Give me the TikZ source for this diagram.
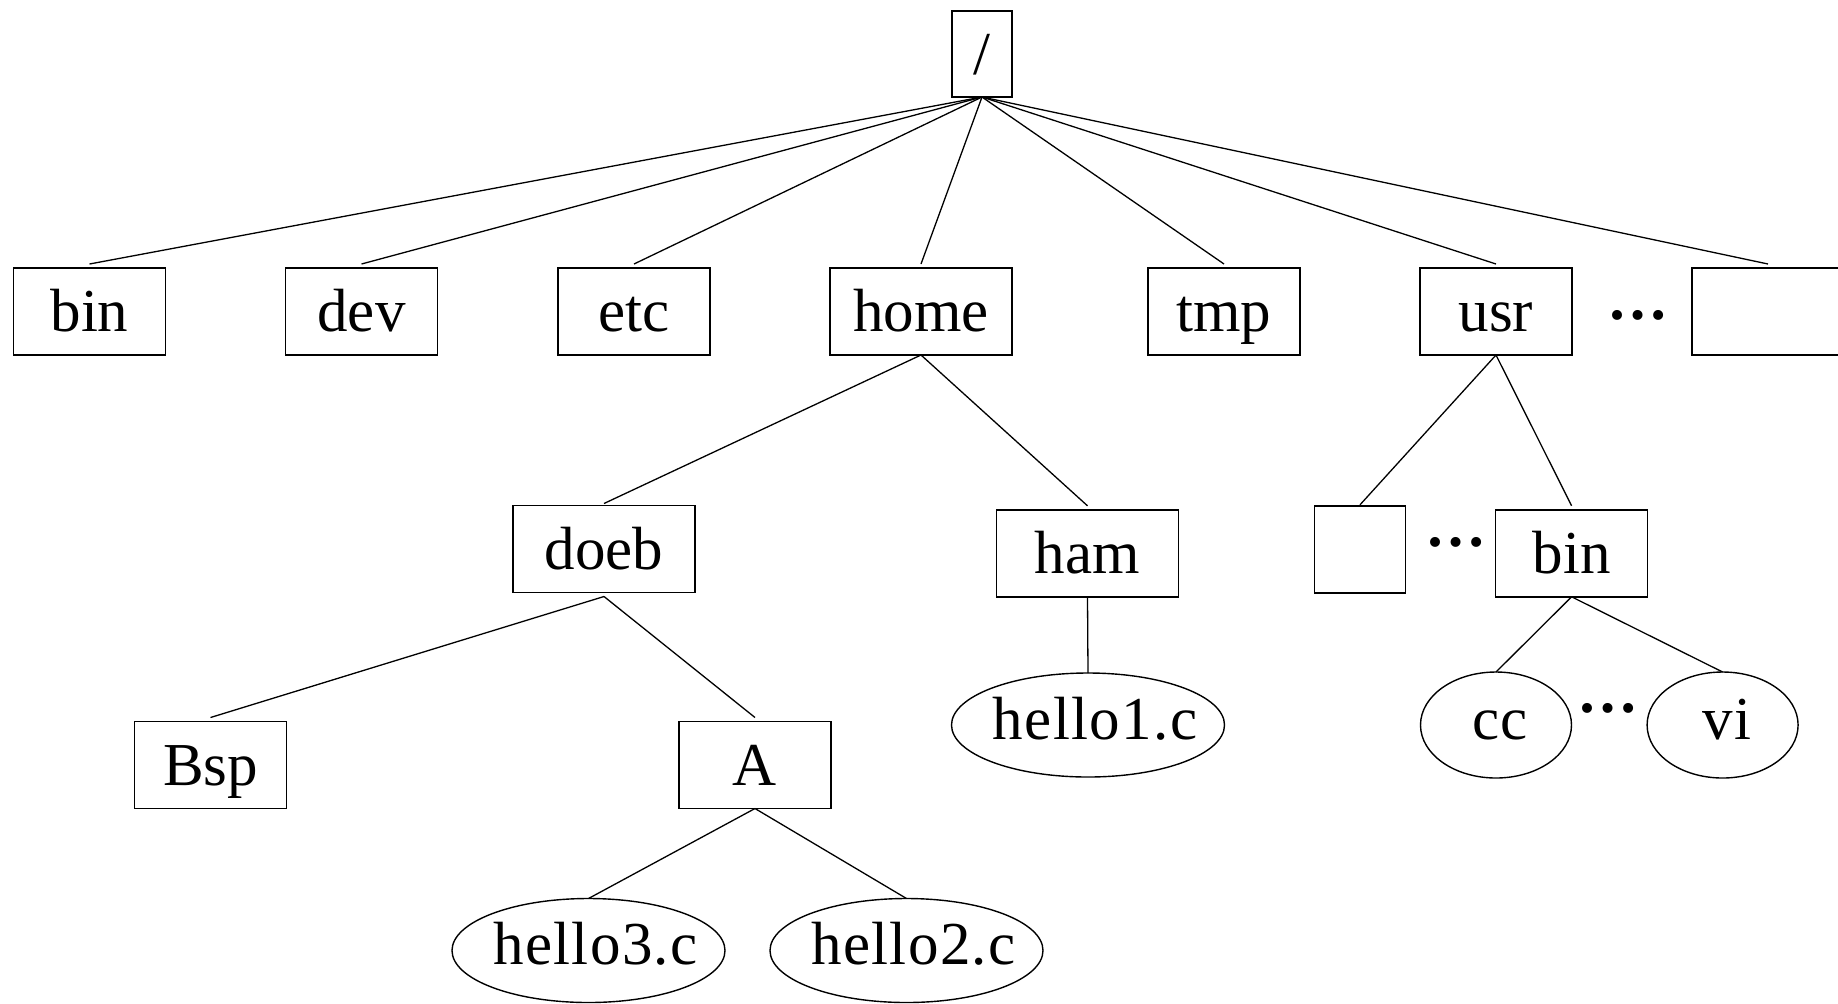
\documentclass[tikz,border=0pt]{standalone}
\usepackage{fontspec}
\setmainfont{Liberation Serif}
\newfontfamily\filefont[LetterSpace=2.2]{Liberation Serif}
\usetikzlibrary{shapes.geometric}
% centred label of zero width, so the ellipse size is set by its minimum size only;
% the optional argument nudges the text to the right by half its value
\newcommand\fnlabel[2][7pt]{\makebox[0pt]{\hspace*{#1}\filefont #2}}
\begin{document}
\begin{tikzpicture}[x=0.5pt,y=-0.5pt,
  every node/.style={font=\fontsize{30.5pt}{36pt}\selectfont, inner sep=0pt, outer sep=0pt},
  dirbox/.style={draw, line width=0.85pt, rectangle, minimum width=76pt, minimum height=43.5pt,
                 text height=21pt, text depth=1pt},
  widedir/.style={dirbox, minimum width=91pt},
  filenode/.style={draw, line width=0.7pt, ellipse, minimum width=136.5pt, minimum height=52pt,
                   text height=15pt, text depth=1pt},
  shortfile/.style={filenode, minimum width=75.5pt, minimum height=53pt},
  link/.style={line width=0.65pt},
  more/.style={anchor=base, font=\fontsize{30.5pt}{36pt}\selectfont\bfseries}
]
\useasboundingbox (0,0) rectangle (1838,1003);

% root
\node[dirbox, minimum width=30pt, minimum height=43pt] (root) at (982,54) {/};

% first level
\node[dirbox]  (bin)  at (89.5,311.5) {bin};
\node[dirbox]  (dev)  at (361.5,311.5) {dev};
\node[dirbox]  (etc)  at (634,311.5) {etc};
\node[widedir] (home) at (921,311.5) {home};
\node[dirbox]  (tmp)  at (1224,311.5) {tmp};
\node[dirbox]  (usr)  at (1496,311.5) {usr};
\node[dirbox]  (other) at (1768,311.5) {};
\node[more]    (dotsA) at (1638,319) {…};

% home subtree
\node[widedir] (doeb) at (604,549) {doeb};
\node[widedir] (ham)  at (1087.5,553.3) {ham};
\node[dirbox]  (bsp)  at (210.5,765) {Bsp};
\node[dirbox]  (a)    at (755,765) {A};
\node[filenode] (h1)  at (1088,725) {\fnlabel{hello1.c}};
\node[filenode] (h3)  at (588.5,950.5) {\fnlabel{hello3.c}};
\node[filenode] (h2)  at (906.5,950.5) {\fnlabel{hello2.c}};

% usr subtree
\node[dirbox, minimum width=45.5pt] (ubox) at (1360,549.3) {};
\node[dirbox]  (ubin) at (1571.6,553.3) {bin};
\node[more]    (dotsB) at (1456,546) {…};
\node[shortfile] (cc) at (1496,725) {\fnlabel[4pt]{cc}};
\node[shortfile] (vi) at (1722.6,725) {\fnlabel[4pt]{vi}};
\node[more]    (dotsC) at (1608,712) {…};

% connectors
\foreach \c in {bin,dev,etc,home,tmp,usr,other}
  \draw[link] (root.south) -- ([yshift=2pt]\c.north);

\draw[link] (home.south) -- ([yshift=1pt]doeb.north);
\draw[link] (home.south) -- ([yshift=2pt]ham.north);
\draw[link] ([yshift=-2pt]doeb.south) -- ([yshift=2pt]bsp.north);
\draw[link] ([yshift=-2pt]doeb.south) -- ([yshift=2pt]a.north);
\draw[link] (ham.south) -- (h1.north);
\draw[link] (a.south) -- (h3.north);
\draw[link] (a.south) -- (h2.north);

\draw[link] (usr.south) -- ([yshift=0.5pt]ubox.north);
\draw[link] (usr.south) -- ([yshift=2pt]ubin.north);
\draw[link] (ubin.south) -- (cc.north);
\draw[link] (ubin.south) -- (vi.north);
\end{tikzpicture}
\end{document}
